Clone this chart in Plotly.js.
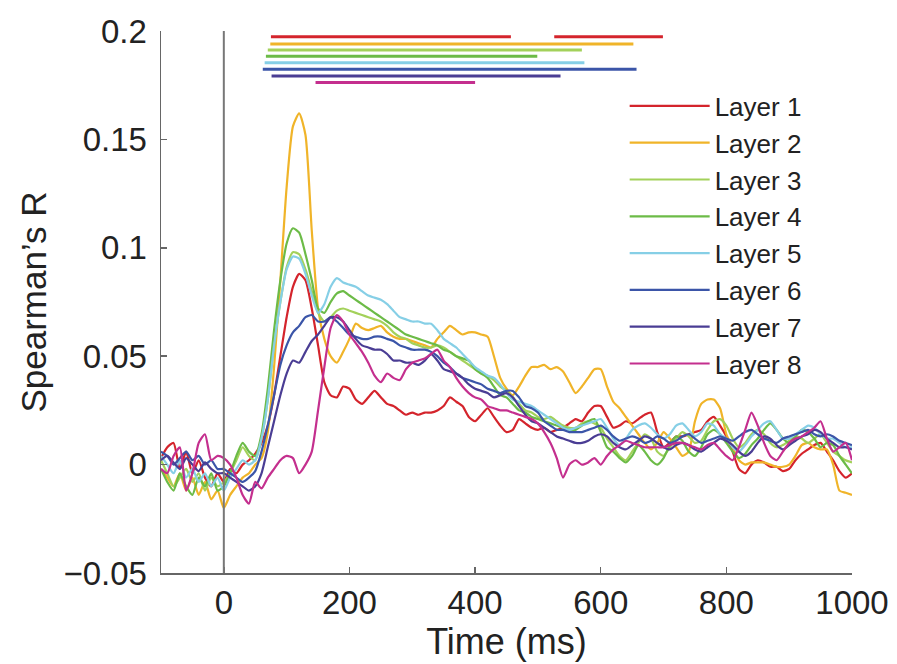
<!DOCTYPE html>
<html>
<head>
<meta charset="utf-8">
<script src="https://cdn.plot.ly/plotly-3.0.1.min.js"></script>
<style>html,body{margin:0;padding:0;background:#fff;}#chart{width:897px;height:664px;}</style>
</head>
<body>
<div id="chart"></div>
<script>
// Time axis (ms)
const time = [
 -100,-90,-80,-70,-60,-50,-40,-30,-20,-10,
 0,10,20,30,40,50,60,70,80,90,
 100,110,120,130,140,150,160,170,180,190,
 200,210,220,230,240,250,260,270,280,290,
 300,310,320,330,340,350,360,370,380,390,
 400,410,420,430,440,450,460,470,480,490,
 500,510,520,530,540,550,560,570,580,590,
 600,610,620,630,640,650,660,670,680,690,
 700,710,720,730,740,750,760,770,780,790,
 800,810,820,830,840,850,860,870,880,890,
 900,910,920,930,940,950,960,970,980,990,
 1000];

const layerNames = ["Layer 1","Layer 2","Layer 3","Layer 4","Layer 5","Layer 6","Layer 7","Layer 8"];
const layerColors = ["#d4242c","#f0b429","#a3d15a","#6cbb47","#86cfe6","#3b55a8","#4a3d94","#c42f8e"];

const layer1 = [
 0.003,0.008,0.010,-0.002,0.006,-0.004,0.002,-0.006,-0.010,-0.004,
 -0.008,-0.002,-0.004,0.000,0.002,0.005,0.010,0.018,0.032,0.050,
 0.068,0.082,0.088,0.085,0.072,0.055,0.038,0.032,0.031,0.036,
 0.035,0.030,0.028,0.031,0.034,0.031,0.028,0.027,0.025,0.023,
 0.024,0.023,0.024,0.024,0.025,0.027,0.031,0.029,0.027,0.022,
 0.020,0.023,0.026,0.022,0.018,0.015,0.016,0.021,0.019,0.017,
 0.016,0.017,0.015,0.016,0.017,0.019,0.021,0.020,0.024,0.027,
 0.027,0.022,0.017,0.018,0.020,0.019,0.021,0.023,0.024,0.015,
 0.008,0.010,0.013,0.013,0.014,0.015,0.016,0.020,0.022,0.018,
 0.013,0.006,-0.002,-0.004,0.000,0.002,0.001,-0.001,-0.001,-0.003,
 -0.002,0.002,0.005,0.007,0.009,0.010,0.006,0.002,-0.003,-0.006,
 -0.004];
const layer2 = [
 -0.002,-0.006,-0.010,-0.004,-0.012,-0.006,-0.014,-0.008,-0.016,-0.012,
 -0.020,-0.014,-0.010,-0.006,-0.004,0.000,0.003,0.015,0.045,0.085,
 0.128,0.156,0.162,0.152,0.108,0.072,0.058,0.050,0.047,0.052,
 0.058,0.065,0.063,0.062,0.063,0.064,0.061,0.059,0.058,0.058,
 0.057,0.056,0.055,0.054,0.058,0.061,0.064,0.062,0.060,0.061,
 0.061,0.060,0.059,0.050,0.040,0.035,0.032,0.036,0.041,0.045,
 0.045,0.046,0.044,0.045,0.043,0.038,0.033,0.036,0.040,0.044,
 0.044,0.036,0.029,0.026,0.022,0.018,0.014,0.010,0.007,0.010,
 0.015,0.012,0.008,0.004,0.006,0.020,0.028,0.030,0.030,0.026,
 0.014,0.008,0.002,0.000,0.001,0.001,0.001,0.000,-0.001,-0.001,
 0.000,0.004,0.009,0.010,0.008,0.007,0.007,0.000,-0.012,-0.013,
 -0.014];
const layer3 = [
 0.002,-0.004,-0.010,-0.006,-0.002,-0.008,-0.004,-0.012,-0.006,-0.010,
 -0.008,-0.004,0.002,0.008,0.004,0.002,0.012,0.030,0.055,0.075,
 0.091,0.098,0.097,0.090,0.080,0.070,0.066,0.068,0.071,0.072,
 0.071,0.070,0.069,0.068,0.067,0.066,0.064,0.061,0.059,0.058,
 0.056,0.055,0.054,0.054,0.055,0.054,0.052,0.050,0.048,0.046,
 0.044,0.042,0.041,0.039,0.036,0.034,0.031,0.028,0.025,0.024,
 0.022,0.021,0.022,0.020,0.018,0.017,0.017,0.019,0.020,0.019,
 0.017,0.012,0.008,0.004,0.002,0.006,0.010,0.014,0.012,0.006,
 0.004,0.008,0.012,0.015,0.013,0.010,0.011,0.016,0.020,0.021,
 0.018,0.012,0.008,0.010,0.014,0.016,0.014,0.010,0.008,0.009,
 0.011,0.013,0.012,0.010,0.012,0.014,0.010,0.006,0.004,0.002,
 0.001];
const layer4 = [
 -0.002,-0.008,-0.012,-0.004,-0.010,-0.014,-0.006,-0.010,-0.004,-0.012,
 -0.010,-0.004,0.004,0.010,0.006,0.004,0.014,0.035,0.062,0.085,
 0.102,0.109,0.107,0.097,0.085,0.072,0.070,0.075,0.079,0.080,
 0.078,0.076,0.074,0.072,0.070,0.068,0.066,0.064,0.062,0.060,
 0.059,0.058,0.057,0.056,0.055,0.053,0.052,0.050,0.049,0.048,
 0.044,0.042,0.040,0.036,0.032,0.031,0.028,0.025,0.024,0.022,
 0.021,0.020,0.019,0.018,0.017,0.016,0.016,0.018,0.020,0.021,
 0.015,0.008,0.006,0.003,0.001,0.004,0.009,0.006,0.002,0.000,
 0.003,0.009,0.013,0.011,0.006,0.004,0.008,0.014,0.016,0.014,
 0.010,0.006,0.003,0.005,0.009,0.012,0.016,0.019,0.016,0.012,
 0.010,0.013,0.016,0.015,0.012,0.008,0.010,0.009,0.004,0.000,
 -0.004];
const layer5 = [
 0.004,0.000,-0.004,0.002,-0.006,-0.002,-0.008,-0.004,-0.010,-0.006,
 -0.012,-0.006,-0.002,0.002,0.000,0.002,0.012,0.030,0.055,0.075,
 0.090,0.096,0.095,0.088,0.078,0.070,0.074,0.082,0.086,0.084,
 0.083,0.082,0.080,0.078,0.077,0.076,0.074,0.071,0.068,0.067,
 0.066,0.066,0.065,0.065,0.062,0.058,0.056,0.054,0.051,0.048,
 0.045,0.043,0.041,0.040,0.037,0.033,0.030,0.029,0.028,0.027,
 0.025,0.023,0.021,0.019,0.017,0.016,0.017,0.018,0.019,0.020,
 0.021,0.017,0.012,0.009,0.012,0.016,0.018,0.019,0.017,0.014,
 0.012,0.014,0.018,0.019,0.016,0.013,0.015,0.019,0.018,0.014,
 0.012,0.008,0.006,0.009,0.013,0.016,0.019,0.020,0.016,0.012,
 0.012,0.014,0.016,0.018,0.017,0.014,0.012,0.012,0.010,0.008,
 0.008];
const layer6 = [
 0.006,0.004,0.000,0.003,0.006,0.002,0.004,0.000,0.002,-0.002,
 -0.002,-0.004,-0.006,-0.008,-0.006,-0.003,0.006,0.018,0.032,0.046,
 0.055,0.061,0.064,0.068,0.069,0.066,0.066,0.068,0.066,0.063,
 0.060,0.059,0.058,0.058,0.059,0.059,0.058,0.057,0.055,0.054,
 0.053,0.053,0.053,0.052,0.050,0.047,0.045,0.042,0.040,0.039,
 0.038,0.037,0.035,0.034,0.033,0.034,0.034,0.031,0.027,0.026,
 0.024,0.020,0.018,0.016,0.016,0.015,0.015,0.015,0.016,0.017,
 0.018,0.016,0.013,0.011,0.012,0.013,0.012,0.010,0.011,0.013,
 0.012,0.010,0.011,0.013,0.014,0.012,0.010,0.011,0.012,0.013,
 0.012,0.011,0.013,0.015,0.016,0.014,0.012,0.011,0.010,0.012,
 0.013,0.014,0.015,0.016,0.014,0.013,0.014,0.013,0.011,0.010,
 0.009];
const layer7 = [
 0.002,0.004,0.001,-0.002,0.003,0.000,-0.003,0.001,-0.002,-0.004,
 -0.004,-0.006,-0.008,-0.010,-0.012,-0.010,-0.004,0.008,0.020,0.032,
 0.042,0.048,0.047,0.052,0.057,0.060,0.064,0.068,0.068,0.066,
 0.062,0.058,0.055,0.054,0.053,0.053,0.051,0.048,0.048,0.047,
 0.047,0.046,0.048,0.051,0.048,0.044,0.043,0.042,0.040,0.037,
 0.035,0.034,0.033,0.031,0.032,0.033,0.031,0.027,0.023,0.020,
 0.019,0.017,0.015,0.013,0.012,0.011,0.010,0.010,0.011,0.013,
 0.014,0.013,0.010,0.008,0.007,0.009,0.011,0.013,0.012,0.010,
 0.008,0.007,0.009,0.010,0.009,0.007,0.006,0.008,0.010,0.012,
 0.011,0.009,0.006,0.004,0.006,0.010,0.013,0.012,0.009,0.007,
 0.009,0.011,0.013,0.014,0.016,0.015,0.012,0.010,0.008,0.008,
 0.007];
const layer8 = [
 -0.002,-0.004,0.004,0.008,-0.012,-0.004,0.010,0.014,0.002,0.004,
 0.003,0.000,-0.006,-0.014,-0.018,-0.008,-0.011,-0.006,-0.002,0.002,
 0.004,0.003,-0.004,0.000,0.006,0.025,0.045,0.063,0.069,0.066,
 0.060,0.056,0.052,0.047,0.041,0.038,0.042,0.040,0.039,0.044,
 0.047,0.048,0.049,0.051,0.053,0.048,0.045,0.040,0.036,0.033,
 0.031,0.030,0.027,0.026,0.025,0.025,0.024,0.023,0.022,0.021,
 0.019,0.015,0.010,0.003,-0.006,0.000,0.002,0.000,0.001,0.003,
 0.000,0.004,0.007,0.009,0.011,0.010,0.009,0.008,0.008,0.008,
 0.008,0.009,0.010,0.010,0.009,0.008,0.007,0.009,0.010,0.007,
 0.004,0.002,0.008,0.016,0.024,0.018,0.010,0.004,0.002,0.006,
 0.010,0.012,0.013,0.015,0.017,0.020,0.012,0.006,0.008,0.010,
 0.002];

// Significance bars (time ranges, ms) and their vertical levels
const sigStarts = [[75,526],[74],[70],[67],[65],[62],[76],[146]];
const sigEnds   = [[457,699],[652],[570],[499],[574],[657],[536],[400]];
const sigLevels = [0.1974,0.1940,0.1912,0.1883,0.1854,0.1823,0.1793,0.1763];

const tickValsX = [0,200,400,600,800,1000];
const tickValsY = [-0.05,0,0.05,0.1,0.15,0.2];
const tickTextY = ["\u22120.05","0","0.05","0.1","0.15","0.2"];

const series = [layer1,layer2,layer3,layer4,layer5,layer6,layer7,layer8];
const traces = [];
series.forEach((vals,i)=>{
  traces.push({x:time,y:vals,type:'scatter',mode:'lines',name:layerNames[i],
    line:{color:layerColors[i],width:2.2,shape:'spline',smoothing:0.6}});
});
sigStarts.forEach((starts,i)=>{
  const xs=[], ys=[];
  starts.forEach((s,j)=>{ if(j>0){xs.push(null);ys.push(null);} xs.push(s, sigEnds[i][j]); ys.push(sigLevels[i], sigLevels[i]); });
  traces.push({x:xs,y:ys,type:'scatter',mode:'lines',showlegend:false,hoverinfo:'skip',
    line:{color:layerColors[i],width:3}});
});

const fontFam = "Liberation Sans, Arial, Helvetica, sans-serif";
const layout = {
  width:897,height:664,
  margin:{l:161,r:45,t:31,b:91},
  paper_bgcolor:'#ffffff',plot_bgcolor:'#ffffff',
  font:{family:fontFam,color:'#222222',size:33},
  showlegend:true,
  legend:{x:0.671,y:0.905,xanchor:'left',yanchor:'top',bgcolor:'rgba(0,0,0,0)',itemwidth:80,
    font:{size:26,color:'#222222',family:fontFam},tracegroupgap:0},
  xaxis:{range:[-100,1000],tickvals:tickValsX,ticks:'inside',ticklen:6,tickwidth:1.5,tickcolor:'#666',
    showline:true,linecolor:'#666',linewidth:1.5,showgrid:false,zeroline:false,
    tickfont:{size:33},ticklabelstandoff:0,
    title:{text:'Time (ms)',font:{size:36},standoff:6}},
  yaxis:{range:[-0.05,0.2],tickvals:tickValsY,ticktext:tickTextY,ticks:'inside',ticklen:6,tickwidth:1.5,tickcolor:'#666',
    showline:true,linecolor:'#666',linewidth:1.5,showgrid:false,zeroline:false,
    tickfont:{size:33},ticklabelstandoff:6,
    title:{text:'Spearman\u2019s R',font:{size:35},standoff:6}},
  shapes:[{type:'line',xref:'x',yref:'paper',x0:0,x1:0,y0:0,y1:1,line:{color:'#777',width:2}}]
};
Plotly.newPlot('chart',traces,layout,{staticPlot:true});
</script>
</body>
</html>
